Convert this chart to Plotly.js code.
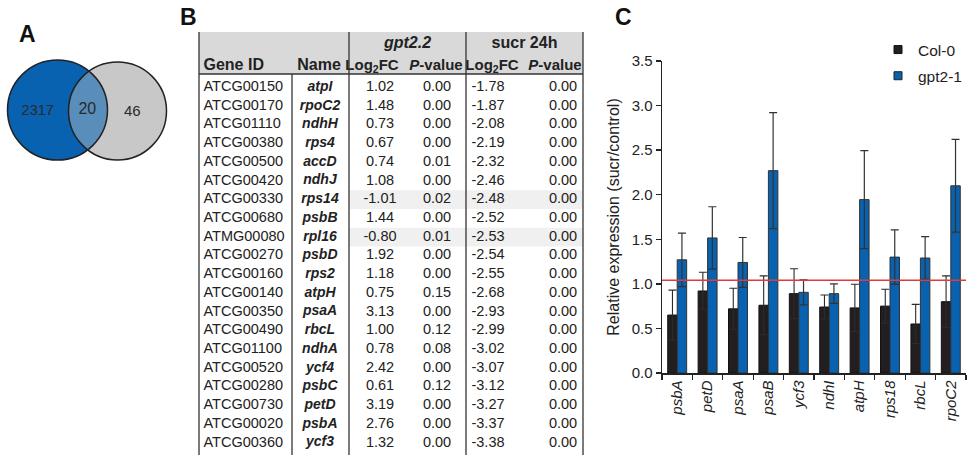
<!DOCTYPE html>
<html>
<head>
<meta charset="utf-8">
<script src="https://cdn.plot.ly/plotly-3.0.1.min.js"></script>
<style>html,body{margin:0;padding:0;background:#fff;}#chart{width:970px;height:455px;}</style>
</head>
<body>
<div id="chart"></div>
<script>
// ---------- Panel A: Venn ----------
const vennCounts = [2317, 20, 46];

// ---------- Panel B: table ----------
const groupHeaders = ['gpt2.2', 'sucr 24h'];
const columnHeaders = ['Gene ID', 'Name', 'Log<sub>2</sub>FC', '<i>P</i>-value', 'Log<sub>2</sub>FC', '<i>P</i>-value'];
const geneIds = ['ATCG00150','ATCG00170','ATCG01110','ATCG00380','ATCG00500','ATCG00420','ATCG00330','ATCG00680','ATMG00080','ATCG00270','ATCG00160','ATCG00140','ATCG00350','ATCG00490','ATCG01100','ATCG00520','ATCG00280','ATCG00730','ATCG00020','ATCG00360'];
const geneNames = ['atpI','rpoC2','ndhH','rps4','accD','ndhJ','rps14','psbB','rpl16','psbD','rps2','atpH','psaA','rbcL','ndhA','ycf4','psbC','petD','psbA','ycf3'];
const gptLog2FC = [1.02,1.48,0.73,0.67,0.74,1.08,-1.01,1.44,-0.80,1.92,1.18,0.75,3.13,1.00,0.78,2.42,0.61,3.19,2.76,1.32];
const gptPval = [0.00,0.00,0.00,0.00,0.01,0.00,0.02,0.00,0.01,0.00,0.00,0.15,0.00,0.12,0.08,0.00,0.12,0.00,0.00,0.00];
const sucrLog2FC = [-1.78,-1.87,-2.08,-2.19,-2.32,-2.46,-2.48,-2.52,-2.53,-2.54,-2.55,-2.68,-2.93,-2.99,-3.02,-3.07,-3.12,-3.27,-3.37,-3.38];
const sucrPval = [0.00,0.00,0.00,0.00,0.00,0.00,0.00,0.00,0.00,0.00,0.00,0.00,0.00,0.00,0.00,0.00,0.00,0.00,0.00,0.00];
const shadedGenes = ['rps14', 'rpl16'];

// ---------- Panel C: bars ----------
const barGenes = ['psbA','petD','psaA','psaB','ycf3','ndhI','atpH','rps18','rbcL','rpoC2'];
const col0Values = [0.65,0.92,0.72,0.76,0.89,0.74,0.73,0.75,0.55,0.80];
const col0Errors = [0.28,0.21,0.23,0.33,0.28,0.135,0.265,0.19,0.22,0.29];
const gptValues = [1.27,1.515,1.24,2.27,0.905,0.89,1.945,1.30,1.29,2.10];
const gptErrors = [0.30,0.35,0.28,0.65,0.14,0.11,0.55,0.305,0.24,0.52];
const seriesNames = ['Col-0', 'gpt2-1'];
const referenceLevel = [1.04];

// ---------- styling ----------
const FONT = 'Liberation Sans, Arial, sans-serif';
const TXT = '#222222';
const BLUE = '#0862b0';
const BLACK = '#231f20';
const GRAY = '#c8c8c8';
const fmt = v => v.toFixed(2);

const W = 970, H = 455;
const rowIdx = geneIds.map((_, i) => i);
const traces = [];

// Venn counts
traces.push({
  type: 'scatter', mode: 'text', xaxis: 'x', yaxis: 'y',
  x: [37.7, 87.3, 132.3], y: [111, 110, 112.7],
  text: vennCounts.map(String),
  textposition: 'middle center',
  textfont: {family: FONT, size: [14.5, 16, 15], color: '#2a2a2a'},
  hoverinfo: 'skip', showlegend: false, cliponaxis: false
});

// table helper
function colText(xPos, texts, pos, font) {
  traces.push({
    type: 'scatter', mode: 'text', xaxis: 'x3', yaxis: 'y3',
    x: texts.map(() => xPos), y: rowIdx.slice(0, texts.length),
    text: texts, textposition: pos,
    textfont: Object.assign({family: FONT, size: 14.5, color: TXT}, font || {}),
    hoverinfo: 'skip', showlegend: false, cliponaxis: true
  });
}
colText(203.5, geneIds, 'middle right');
colText(320, geneNames, 'middle center', {weight: 'bold', style: 'italic', size: 14});
colText(380, gptLog2FC.map(fmt), 'middle center');
colText(437, gptPval.map(fmt), 'middle center');
colText(488, sucrLog2FC.map(fmt), 'middle center');
colText(563, sucrPval.map(fmt), 'middle center');

// table headers
const hdrY = -1.111, grpY = -2.313;
traces.push({
  type: 'scatter', mode: 'text', xaxis: 'x3', yaxis: 'y3',
  x: [203.5, 319, 372, 436, 492, 555], y: columnHeaders.map(() => hdrY),
  text: columnHeaders.map(t => '<b>' + t + '</b>'),
  textposition: ['middle right','middle center','middle center','middle center','middle center','middle center'],
  textfont: {family: FONT, size: [16, 16, 15, 15, 15, 15], color: TXT},
  hoverinfo: 'skip', showlegend: false, cliponaxis: false
});
traces.push({
  type: 'scatter', mode: 'text', xaxis: 'x3', yaxis: 'y3',
  x: [407.5, 524.5], y: [grpY, grpY],
  text: ['<b><i>' + groupHeaders[0] + '</i></b>', '<b>' + groupHeaders[1] + '</b>'],
  textposition: 'middle center',
  textfont: {family: FONT, size: 16, color: TXT},
  hoverinfo: 'skip', showlegend: false, cliponaxis: false
});

// bars
traces.push({
  type: 'bar', name: seriesNames[0], x: barGenes, y: col0Values, xaxis: 'x2', yaxis: 'y2',
  marker: {color: BLACK, line: {color: '#111111', width: 1}},
  error_y: {type: 'data', array: col0Errors, visible: true, color: '#2b2b2b', thickness: 1.1, width: 4},
  showlegend: false, hoverinfo: 'skip'
});
traces.push({
  type: 'bar', name: seriesNames[1], x: barGenes, y: gptValues, xaxis: 'x2', yaxis: 'y2',
  marker: {color: BLUE, line: {color: '#333333', width: 1}},
  error_y: {type: 'data', array: gptErrors, visible: true, color: '#333333', thickness: 1.2, width: 4},
  showlegend: false, hoverinfo: 'skip'
});
// legend proxies
traces.push({type: 'scatter', mode: 'markers', name: seriesNames[0], x: [null], y: [null], xaxis: 'x2', yaxis: 'y2',
  marker: {symbol: 'square', size: 8, color: BLACK, line: {color: '#111', width: 1}}, legendgroup: 'a'});
traces.push({type: 'scatter', mode: 'markers', name: seriesNames[1], x: [null], y: [null], xaxis: 'x2', yaxis: 'y2',
  marker: {symbol: 'square', size: 8, color: BLUE, line: {color: '#222', width: 1}}, legendgroup: 'b'});

// ---------- shapes ----------
const shapes = [];
// Venn
const vb = {x0: 7.5, x1: 107.5, y0: 60, y1: 160};
const vg = {x0: 68.5, x1: 166.5, y0: 62, y1: 160};
shapes.push(Object.assign({type: 'circle', xref: 'x', yref: 'y', layer: 'below', fillcolor: BLUE, line: {width: 0}}, vb));
shapes.push(Object.assign({type: 'circle', xref: 'x', yref: 'y', layer: 'below', fillcolor: GRAY, line: {width: 0}}, vg));
shapes.push(Object.assign({type: 'circle', xref: 'x', yref: 'y', layer: 'below', fillcolor: 'rgba(8,98,176,0.58)', line: {width: 0}}, vb));
shapes.push(Object.assign({type: 'circle', xref: 'x', yref: 'y', layer: 'below', fillcolor: 'rgba(0,0,0,0)', line: {color: '#222', width: 1.5}}, vb));
shapes.push(Object.assign({type: 'circle', xref: 'x', yref: 'y', layer: 'below', fillcolor: 'rgba(0,0,0,0)', line: {color: '#222', width: 1.5}}, vg));

// table
const tL = 199, tR = 583, cID = 292, cName = 349, cGrp = 466;
const hTop = -2.954, hBot = -0.71, tBot = 21;
shapes.push({type: 'rect', xref: 'x3', yref: 'y3', layer: 'below', x0: tL, x1: tR, y0: hTop, y1: hBot, fillcolor: '#d9d9d9', line: {width: 0}});
geneNames.forEach((g, i) => {
  if (shadedGenes.indexOf(g) >= 0) {
    shapes.push({type: 'rect', xref: 'x3', yref: 'y3', layer: 'below', x0: cName, x1: tR, y0: i - 0.5, y1: i + 0.5, fillcolor: '#f0f0f0', line: {width: 0}});
  }
});
const tl = {color: '#333333', width: 1.3};
shapes.push({type: 'line', xref: 'x3', yref: 'y3', x0: tL, x1: tR, y0: hBot, y1: hBot, line: tl});
[tL, cName, cGrp, tR].forEach(x => shapes.push({type: 'line', xref: 'x3', yref: 'y3', x0: x, x1: x, y0: hTop, y1: tBot, line: tl}));
shapes.push({type: 'line', xref: 'x3', yref: 'y3', x0: cID, x1: cID, y0: hBot, y1: tBot, line: tl});

// reference line in C
shapes.push({type: 'line', xref: 'x2 domain', yref: 'y2', x0: 0, x1: 1, y0: referenceLevel[0], y1: referenceLevel[0], line: {color: '#e03a3a', width: 1.5}});

// ---------- annotations (panel letters) ----------
const letter = (t, px, py) => ({text: '<b>' + t + '</b>', xref: 'paper', yref: 'paper', x: px / W, y: 1 - py / H,
  xanchor: 'center', yanchor: 'middle', showarrow: false, font: {family: FONT, size: 23, color: '#111'}});

const hidden = {visible: false, showgrid: false, zeroline: false, fixedrange: true};

const layout = {
  width: W, height: H,
  margin: {l: 0, r: 0, t: 0, b: 0},
  paper_bgcolor: '#ffffff', plot_bgcolor: 'rgba(0,0,0,0)',
  font: {family: FONT, color: TXT},
  showlegend: true,
  legend: {x: 878 / W, y: 1 - 33 / H, xanchor: 'left', yanchor: 'top', bgcolor: 'rgba(0,0,0,0)',
    font: {family: FONT, size: 15.5, color: TXT}, traceorder: 'grouped', tracegroupgap: 3, itemwidth: 30},
  xaxis: Object.assign({domain: [0, 0.18], range: [0, 174.6]}, hidden),
  yaxis: Object.assign({domain: [0.6, 1], range: [182, 0]}, hidden),
  xaxis3: Object.assign({domain: [190 / W, 590 / W], range: [190, 590], anchor: 'y3'}, hidden),
  yaxis3: Object.assign({domain: [0, 1], range: [19.642, -4.663], anchor: 'x3'}, hidden),
  xaxis2: {domain: [662 / W, 966 / W], anchor: 'y2', type: 'category', showgrid: false, zeroline: false,
    showline: true, linecolor: '#222', linewidth: 1.5, ticks: 'outside', tickson: 'boundaries', ticklen: 5,
    tickcolor: '#222', tickwidth: 1.3, tickangle: -90,
    tickfont: {family: FONT, size: 15, style: 'italic', color: TXT}, fixedrange: true},
  yaxis2: {domain: [(H - 373) / H, (H - 61) / H], anchor: 'x2', range: [0, 3.5], dtick: 0.5, tickformat: '.1f',
    showgrid: false, zeroline: false, showline: true, linecolor: '#222', linewidth: 1.5,
    ticks: 'outside', ticklen: 5, tickcolor: '#222', tickwidth: 1.3,
    tickfont: {family: FONT, size: 15, color: TXT},
    title: {text: 'Relative expression (sucr/control)', font: {family: FONT, size: 16, color: TXT}, standoff: 8},
    fixedrange: true},
  barmode: 'group', bargap: 0.377, bargroupgap: 0,
  shapes: shapes,
  annotations: [letter('A', 27, 34), letter('B', 188, 17), letter('C', 623, 17)]
};

Plotly.newPlot('chart', traces, layout, {displayModeBar: false, staticPlot: true});
</script>
</body>
</html>
